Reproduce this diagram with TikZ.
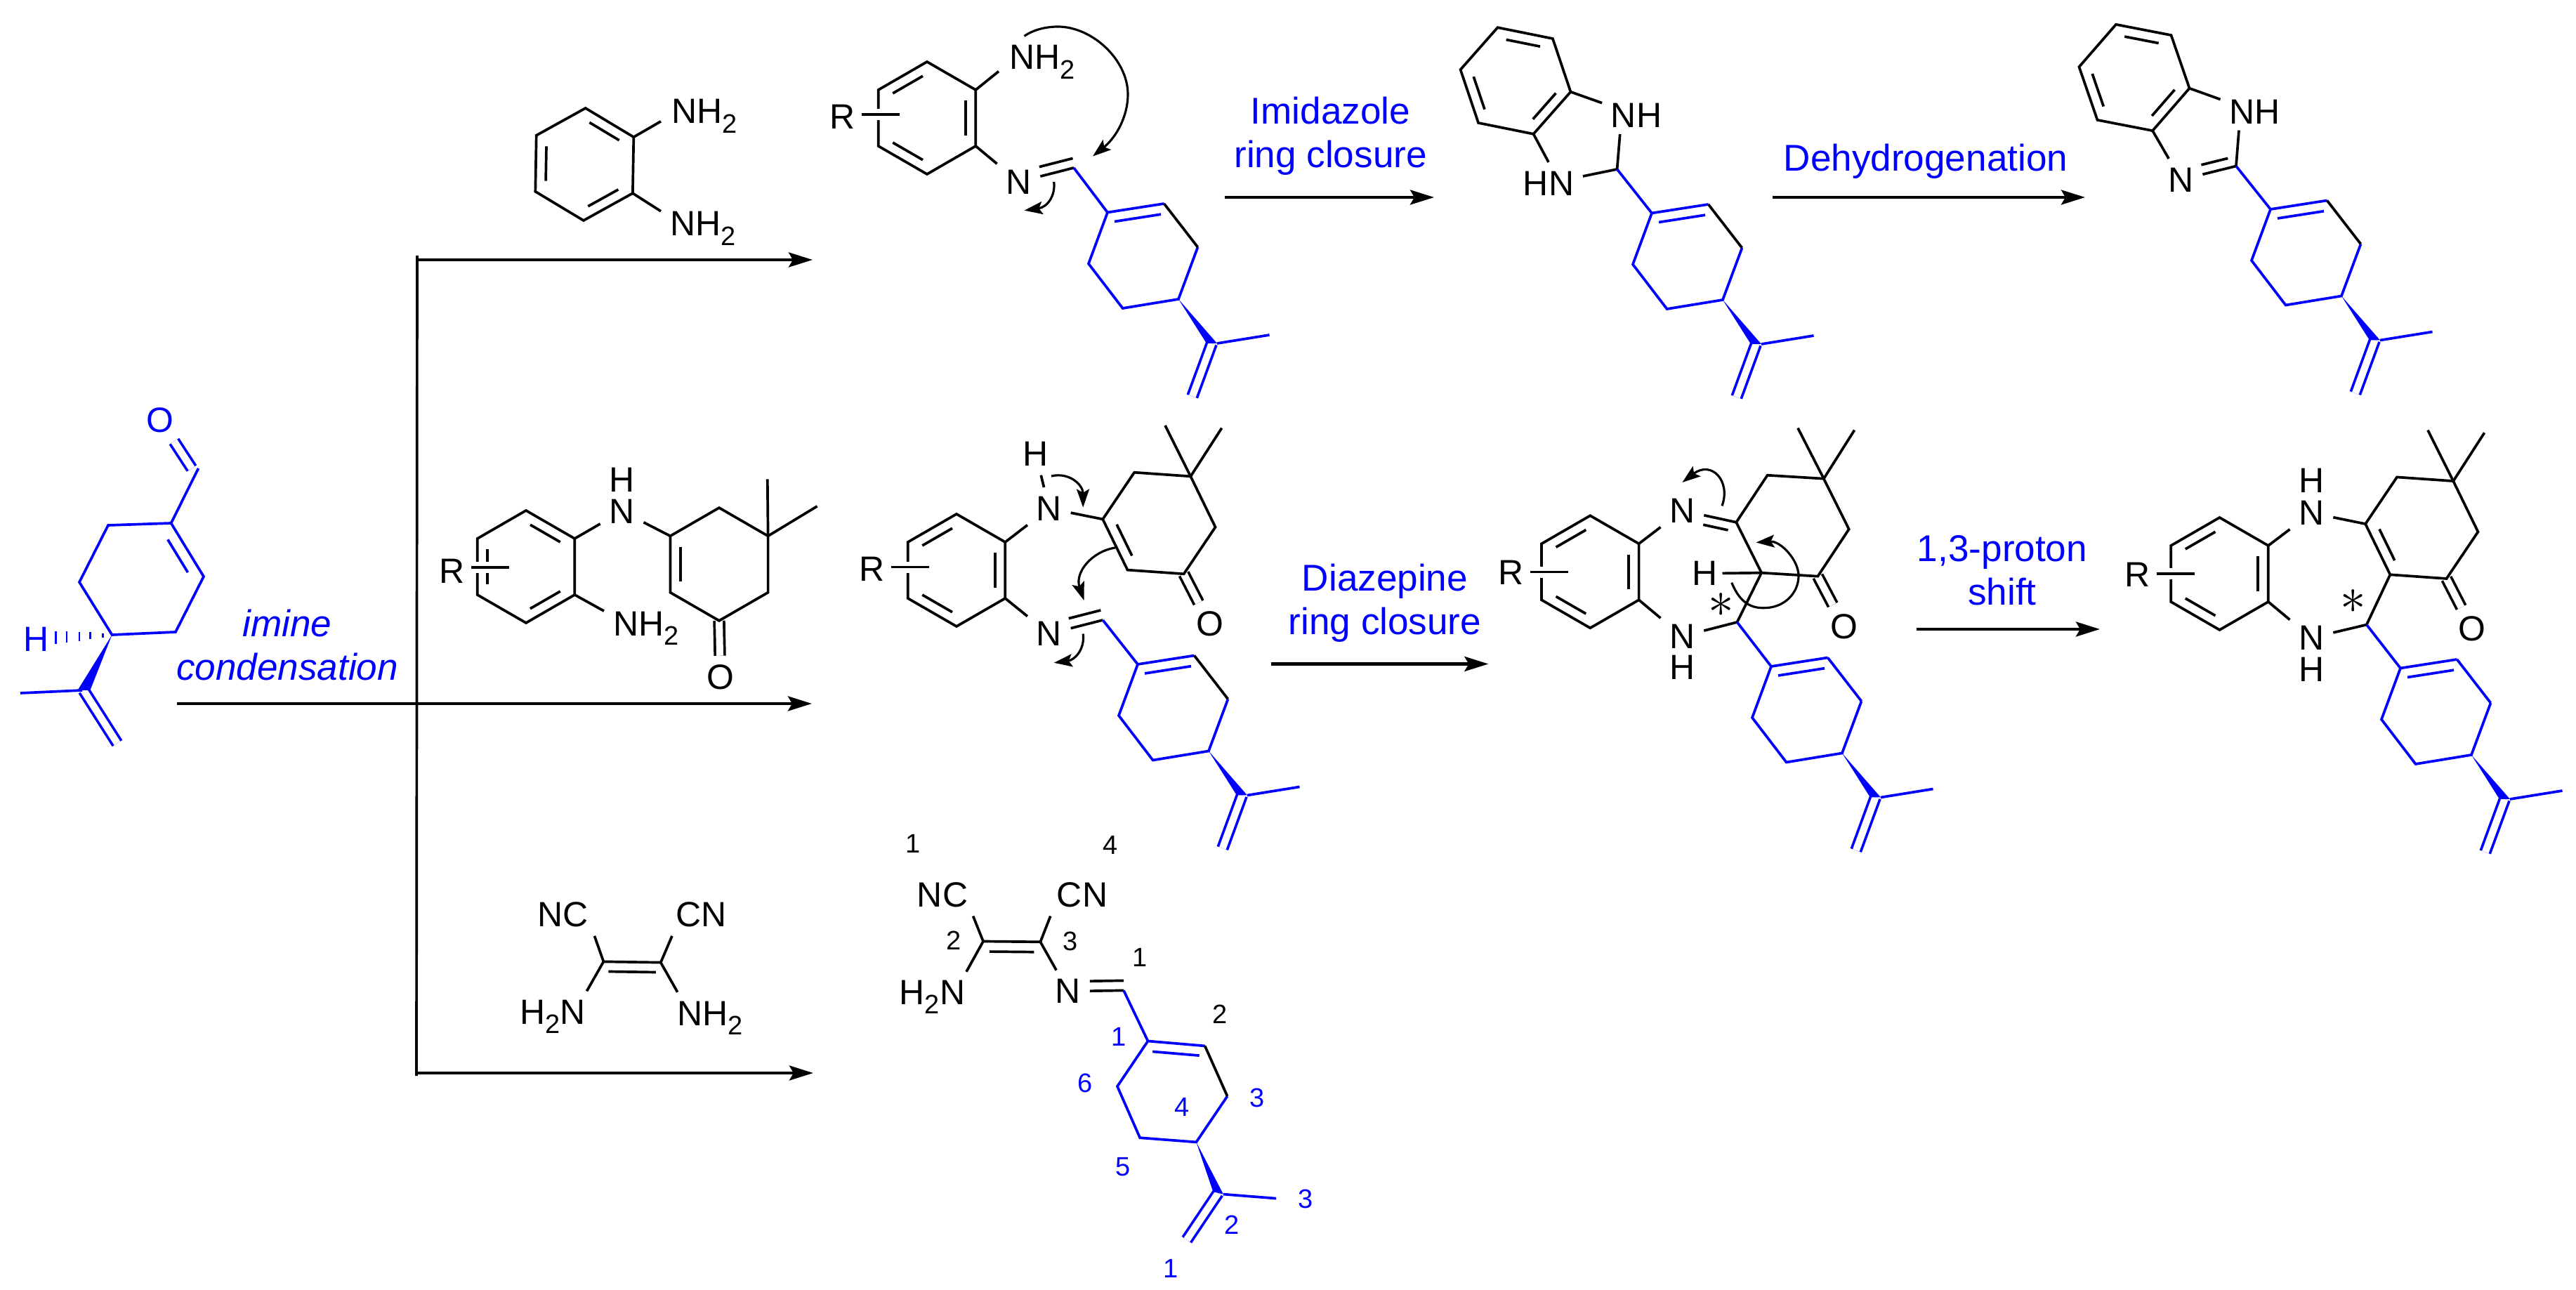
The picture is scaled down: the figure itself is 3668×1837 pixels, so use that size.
\documentclass[tikz,border=0pt]{standalone}
\usepackage{fontspec}
\setmainfont{Liberation Sans}
\usetikzlibrary{arrows.meta,calc}
\tikzset{
  atom/.style={font=\fontsize{14.2}{17}\selectfont,inner sep=0.11cm},
  rgroup/.style={font=\fontsize{14.2}{17}\selectfont,inner sep=0.07cm},
  lab/.style={font=\fontsize{15.1}{17.64}\selectfont,text=blue,align=center,inner sep=0pt},
  num/.style={font=\fontsize{10.8}{13}\selectfont,inner sep=0pt},
  star/.style={font=\fontsize{20.74}{22}\selectfont,inner sep=0pt},
  flow/.style={line width=1.2pt,-{Stealth[length=0.34cm,width=0.21cm,inset=0.06cm]}},
  push/.style={line width=0.9pt,-{Stealth[length=0.26cm,width=0.18cm,inset=0.05cm]}},
  dbl/.style={double,double distance=0.1cm},
  sec/.style={transform canvas={shift={(#1)}}},
  rbond/.style={preaction={draw=white,line width=0.16cm}}
}
\newcommand{\subtwo}{\raisebox{-3.7pt}{\fontsize{10.8}{11}\selectfont 2}}
\newcommand{\inbond}[3]{\draw ($($(#1)!.11!(#2)$)!.21!(#3)$) to ($($(#2)!.11!(#1)$)!.21!(#3)$);}
\newcommand{\benzring}[3]{
  \begin{scope}[shift={(#2)},rotate=#3]
    \path
      (0,0) coordinate (#10)
      (0,-80) coordinate (#1a)
      (69.3,-40) coordinate (#1b)
      (69.3,40) coordinate (#1c)
      (0,80) coordinate (#1d)
      (-69.3,40) coordinate (#1e)
      (-69.3,-40) coordinate (#1f);
    \draw (#1a) -- (#1b) -- (#1c) -- (#1d) -- (#1e) -- (#1f) -- cycle;
  \end{scope}}
\newcommand{\dimering}[3]{
  \begin{scope}[shift={(#2)},rotate=#3]
    \path
      (0,0) coordinate (#10)
      (-69.6,-40.2) coordinate (#1a)
      (0,-80.4) coordinate (#1b)
      (69.6,-40.2) coordinate (#1c)
      (69.6,40.2) coordinate (#1d)
      (0,80.4) coordinate (#1e)
      (-69.6,40.2) coordinate (#1f)
      (68.8,-121.2) coordinate (#1m)
      (139.6,-82.6) coordinate (#1n)
      (1.7,160.8) node[atom] (#1o){O};
    \draw[dbl] (#1e) to (#1o);
    \draw (#1a) -- (#1b) -- (#1c) -- (#1d) -- (#1e) -- (#1f) -- cycle;
    \draw (#1c) to (#1m);
    \draw (#1c) to (#1n);
  \end{scope}}
\newcommand{\limonene}[4]{
  \begin{scope}[shift={(#2)},rotate=#3,blue]
    \path
      (0,0) coordinate (#1a)
      (80.5,-12.5) coordinate (#1b)
      (128.5,49.5) coordinate (#1c)
      (101,123.5) coordinate (#1d)
      (21.6,136.5) coordinate (#1e)
      (-27,73) coordinate (#1f)
      (156,186.5) coordinate (#1g)
      (230.5,174.5) coordinate (#1h)
      (148.5,186.5) coordinate (#1i)
      (120.8,262) coordinate (#1j)
      (141,186.5) coordinate (#1k);
    \draw[dbl] (#1i) to (#1j);
    \draw (#1b) to (#1a) to (#1f) to (#1e) to (#1d) to (#1c);
    \draw[#4] (#1b) to (#1c);
    \draw (10,13) to (76,2.7);
    \draw (#1g) to (#1h);
    \fill (#1d) -- (#1g) -- (#1k) -- cycle;
  \end{scope}}
\begin{document}
\begin{tikzpicture}[x=0.01cm,y=-0.01cm,line width=1.05pt]
      \useasboundingbox (0,0) rectangle (3668,1837);
      \begin{scope}[blue]
        \path
          (243.6,745) coordinate (sa)
          (290,821) coordinate (sb)
          (250,900) coordinate (sc)
          (159.5,904) coordinate (sd)
          (113,829) coordinate (se)
          (154,748) coordinate (sf)
          (201.8,824.5) coordinate (s0)
          (282.5,667) coordinate (sg)
          (273,667) coordinate (sh)
          (117,983) coordinate (si)
          (29,987) coordinate (sj)
          (119,983) coordinate (sk)
          (167,1058.5) coordinate (sl)
          (110.5,983) coordinate (sm)
          (128.4,983) coordinate (sn);
        \draw
          (228,598) node[atom] (so){O}
          (52,910.5) node[atom] (sH){H};
        \draw[dbl] (sh) to (so);
        \draw[dbl] (sk) to (sl);
        \draw (sg) to (sa) to (sb) to (sc) to (sd) to (se) to (sf) to (sa);
        \inbond{sa}{sb}{s0}
        \draw (si) to (sj);
        \fill (sd) -- (sm) -- (sn) -- cycle;
        \draw[line width=0.7pt]
          (146.3,902) -- (146.3,908) (128.4,900.5) -- (128.4,910.5)
          (113,900) -- (113,913) (95,899.5) -- (95,915) (79.4,899) -- (79.4,917);
      \end{scope}
      \draw
        (409,919) node[lab,font=\fontsize{15.1}{17.64}\selectfont\itshape] (cond){imine\\condensation}
        (1894.6,194) node[lab] (imid){Imidazole\\ring closure}
        (2742,230) node[lab] (dehy){Dehydrogenation}
        (1972,859) node[lab] (diaz){Diazepine\\ring closure}
        (2851,812) node[lab] (prot){1,3-proton\\shift};
      \path
        (594,364) coordinate (vt)
        (593,1532) coordinate (vb)
        (594,370) coordinate (j1)
        (1157,370) coordinate (e1)
        (252,1002) coordinate (j2)
        (1156,1002) coordinate (e2)
        (594,1528) coordinate (j3)
        (1158,1528) coordinate (e3)
        (1743.7,281) coordinate (j4)
        (2042,281) coordinate (e4)
        (2524,281) coordinate (j5)
        (2969,281) coordinate (e5)
        (1809.5,945.5) coordinate (j6)
        (2119.4,945.5) coordinate (e6)
        (2729,896) coordinate (j7)
        (2990,896) coordinate (e7);
      \draw (vt) to (vb);
      \draw[flow] (j1) to (e1);
      \draw[flow] (j2) to (e2);
      \draw[flow] (j3) to (e3);
      \draw[flow] (j4) to (e4);
      \draw[flow] (j5) to (e5);
      \draw[flow] (j6) to (e6);
      \draw[flow] (j7) to (e7);
      \benzring{p}{832.3,234}{-1}
      \inbond{pa}{pb}{p0}
      \inbond{pc}{pd}{p0}
      \inbond{pe}{pf}{p0}
      \draw
        (944,176) node[atom,anchor=base west] (pn1){NH\subtwo}
        (942,336) node[atom,anchor=base west] (pn2){NH\subtwo};
      \draw (pb) to ([shift={(-3,7.5)}]pn1.west);
      \draw (pc) to ([shift={(-1,-24.5)}]pn2.west);
      \benzring{u}{1320,168}{0}
      \inbond{uf}{ua}{u0}
      \inbond{ub}{uc}{u0}
      \inbond{ud}{ue}{u0}
      \draw
        (1200,166) node[rgroup] (ur){R}
        (1425,99) node[atom,anchor=base west] (un1){NH\subtwo}
        (1450.5,259) node[atom] (un2){N};
      \path
        (1281,163) coordinate (ut)
        (1529,239) coordinate (uh)
        (1458.5,51.4) coordinate (uk1)
        (1556,222.6) coordinate (uk2)
        (1500.7,259) coordinate (uk3)
        (1458.5,299.7) coordinate (uk4);
      \draw[rbond] (ur.east |- ut) to (ut);
      \draw (ub) to ([shift={(-3,13.3)}]un1.west);
      \draw (uc) to (un2);
      \draw (uh) to (un2);
      \draw[sec={-1.5,-13.5}] (uh) to (un2);
      \limonene{ul}{1577,302.5}{0}{black}
      \draw[blue] (uh) to (ula);
      \draw[push] (uk1) .. controls (1472,42) and (1490,38) .. (1506.5,38) .. controls (1555,38) and (1606,85) .. (1606,134.4) .. controls (1606,165) and (1590,195) .. (uk2);
      \draw[push] (uk3) .. controls (1503,278) and (1492,295) .. (uk4);
      \benzring{g}{2158,115}{18.6}
      \inbond{ga}{gb}{g0}
      \inbond{gc}{gd}{g0}
      \inbond{ge}{gf}{g0}
      \draw
        (2330,164) node[atom] (gn1){NH}
        (2205,261) node[atom] (gn2){HN};
      \path (2302.6,241) coordinate (gh);
      \draw (gc) to (gn1);
      \draw (gd) to (gn2.north);
      \draw (gh) to ([shift={(-23.3,-3)}]gn1.south);
      \draw (gh) to (gn2);
      \limonene{gl}{2352,303.5}{0}{black}
      \draw[blue] (gh) to (gla);
      \benzring{k}{3039,110.5}{19}
      \inbond{ka}{kb}{k0}
      \inbond{kc}{kd}{k0}
      \inbond{ke}{kf}{k0}
      \draw
        (3210.5,159) node[atom] (kn1){NH}
        (3105.5,256) node[atom] (kn2){N};
      \path (3184,236.5) coordinate (kh);
      \draw (kc) to (kn1);
      \draw (kd) to (kn2);
      \draw (kh) to ([shift={(-22.5,-3.4)}]kn1.south);
      \draw (kh) to (kn2);
      \draw[sec={-2,-13.5},shorten <=0.1cm] (kh) to (kn2);
      \limonene{kl}{3233,298}{0}{black}
      \draw[blue] (kh) to (kla);
      \benzring{q}{749,807}{0}
      \dimering{qd}{1024,803.5}{0}
      \inbond{qa}{qb}{q0}
      \inbond{qc}{qd}{q0}
      \inbond{qe}{qf}{q0}
      \inbond{qda}{qdf}{qd0}
      \draw
        (644,813) node[rgroup] (qr){R}
        (885.6,728) node[atom] (qn1){N}
        (885.6,683) node[atom] (qh1){H}
        (860.6,905.8) node[atom,anchor=base west] (qn2){NH\subtwo};
      \path (725,808) coordinate (qt);
      \draw[rbond] (qr.east |- qt) to (qt);
      \draw (qb) to (qn1);
      \draw (qc) to ([shift={(-0.6,-25)}]qn2.west);
      \draw (qn1) to (qda);
      \benzring{v}{1362,812}{0}
      \dimering{vd}{1650.4,745}{26}
      \inbond{vf}{va}{v0}
      \inbond{vb}{vc}{v0}
      \inbond{vd}{ve}{v0}
      \inbond{vda}{vdf}{vd0}
      \draw
        (1242,810.6) node[rgroup] (vr){R}
        (1493.8,724) node[atom] (vn1){N}
        (1475,646.7) node[atom] (vh1){H}
        (1493.8,902.6) node[atom] (vn2){N};
      \path
        (1323,807.6) coordinate (vt)
        (1570.3,883) coordinate (vh)
        (1497,678) coordinate (vk1)
        (1542.2,722.6) coordinate (vk2)
        (1588,780) coordinate (vk3)
        (1543.5,855) coordinate (vk4)
        (1542.2,902.6) coordinate (vk5)
        (1500.8,943.8) coordinate (vk6);
      \draw[rbond] (vr.east |- vt) to (vt);
      \draw (vb) to (vn1);
      \draw (vh1) to (vn1);
      \draw (vn1) to (vda);
      \draw (vc) to (vn2);
      \draw (vh) to (vn2);
      \draw[sec={-3,-14}] (vh) to (vn2);
      \limonene{vl}{1620,946}{0}{black}
      \draw[blue] (vh) to (vla);
      \draw[push] (vk1) .. controls (1522,672) and (1542,690) .. (vk2);
      \draw[push] (vk3) .. controls (1555,785) and (1530,815) .. (vk4);
      \draw[push] (vk5) .. controls (1545,925) and (1530,940) .. (vk6);
      \benzring{w}{2264.3,814.3}{0}
      \dimering{wd}{2552.5,748.7}{26.5}
      \inbond{wf}{wa}{w0}
      \inbond{wb}{wc}{w0}
      \inbond{wd}{we}{w0}
      \draw
        (2152,815.8) node[rgroup] (wr){R}
        (2395.4,727) node[atom] (wn1){N}
        (2395.4,906) node[atom] (wn2){N}
        (2395.4,950.3) node[atom] (wh2){H}
        (2427.6,816.7) node[atom,inner sep=0.05cm] (wh1){H}
        (2450.5,861.4) node[star] (ws){$\ast$};
      \path
        (2232.7,814.6) coordinate (wt)
        (2473.5,886) coordinate (wh)
        (2452,720.4) coordinate (wk1)
        (2395.4,687) coordinate (wk2)
        (2465.8,829.7) coordinate (wk3)
        (2500.5,772.5) coordinate (wk4);
      \draw[rbond] (wr.east |- wt) to (wt);
      \draw (wb) to (wn1);
      \draw (wda) to (wn1);
      \draw[sec={-1,13.5},shorten <=0.11cm] (wda) to (wn1);
      \draw (wc) to (wn2);
      \draw (wh1) to (wdf);
      \draw (wdf) to (wh);
      \draw (wh) to (wn2);
      \limonene{wl}{2522,949}{0}{blue}
      \draw[blue] (wh) to (wla);
      \draw[push] (wk1) .. controls (2465,685) and (2437,655) .. (wk2);
      \draw[push] (wk3) .. controls (2478,860) and (2495,866) .. (2511.7,865.7) .. controls (2540,866) and (2561,845) .. (2561,820) .. controls (2561,797) and (2535,770) .. (wk4);
      \benzring{x}{3160.5,817}{0}
      \dimering{xd}{3448.3,751.7}{26}
      \inbond{xf}{xa}{x0}
      \inbond{xb}{xc}{x0}
      \inbond{xd}{xe}{x0}
      \inbond{xda}{xdf}{xd0}
      \draw
        (3043.8,818) node[rgroup] (xr){R}
        (3291.4,730.4) node[atom] (xn1){N}
        (3291.4,684.5) node[atom] (xh1){H}
        (3291.4,908.2) node[atom] (xn2){N}
        (3291.4,953.8) node[atom] (xh2){H}
        (3351.2,857) node[star] (xs){$\ast$};
      \path
        (3124.7,816.7) coordinate (xt)
        (3369.8,889.6) coordinate (xh);
      \draw[rbond] (xr.east |- xt) to (xt);
      \draw (xb) to (xn1);
      \draw (xn1) to (xda);
      \draw (xc) to (xn2);
      \draw (xdf) to (xh);
      \draw (xh) to (xn2);
      \limonene{xl}{3418,951.5}{0}{blue}
      \draw[blue] (xh) to (xla);
      \draw
        (801.2,1302.3) node[atom] (mn1){NC}
        (999,1302.3) node[atom] (mn2){CN}
        (846.5,1458.6) node[atom,anchor=base east] (mn3){H\subtwo N}
        (952,1460) node[atom,anchor=base west] (mn4){NH\subtwo};
      \path
        (859.4,1369.4) coordinate (ma)
        (940.8,1370.6) coordinate (mb);
      \draw (ma) to (mb);
      \draw[sec={0,14},shorten <=0.07cm,shorten >=0.07cm] (ma) to (mb);
      \draw (ma) to (mn1.-34);
      \draw (mb) to (mn2.216);
      \draw (ma) to ([shift={(-11,0)}]mn3.north east);
      \draw (mb) to ([shift={(12.7,0)}]mn4.north west);
      \draw
        (1342,1274) node[atom] (yn1){NC}
        (1541,1274) node[atom] (yn2){CN}
        (1387,1430) node[atom,anchor=base east] (yn3){H\subtwo N}
        (1521,1411.7) node[atom] (yn4){N};
      \path
        (1400,1340.5) coordinate (ya)
        (1481.4,1341.3) coordinate (yb)
        (1600,1410.4) coordinate (yh);
      \draw (ya) to (yb);
      \draw[sec={0,14.5},shorten <=0.09cm,shorten >=0.09cm] (ya) to (yb);
      \draw (ya) to (yn1.-35);
      \draw (yb) to (yn2.214.5);
      \draw (ya) to ([shift={(-11,1)}]yn3.north east);
      \draw (yb) to (yn4);
      \draw (yh) to (yn4);
      \draw[sec={0,-14}] (yh) to (yn4);
      \limonene{yl}{1634.5,1482.5}{-13.7}{black}
      \draw[blue] (yh) to (yla);
      \draw
        (1300.4,1201.8) node[num] (t1){1}
        (1581,1203) node[num] (t2){4}
        (1357.8,1339) node[num] (t3){2}
        (1523.7,1340) node[num] (t4){3}
        (1623.3,1363.5) node[num] (t5){1}
        (1736.6,1444) node[num] (t6){2}
        (1593,1476) node[num,text=blue] (t7){1}
        (1545.2,1542.4) node[num,text=blue] (t8){6}
        (1790,1563.3) node[num,text=blue] (t9){3}
        (1683,1576.7) node[num,text=blue] (t10){4}
        (1598.6,1661.8) node[num,text=blue] (t11){5}
        (1858.6,1707) node[num,text=blue] (t12){3}
        (1754,1744.3) node[num,text=blue] (t13){2}
        (1667.2,1806.3) node[num,text=blue] (t14){1};
    \end{tikzpicture}
\end{document}
